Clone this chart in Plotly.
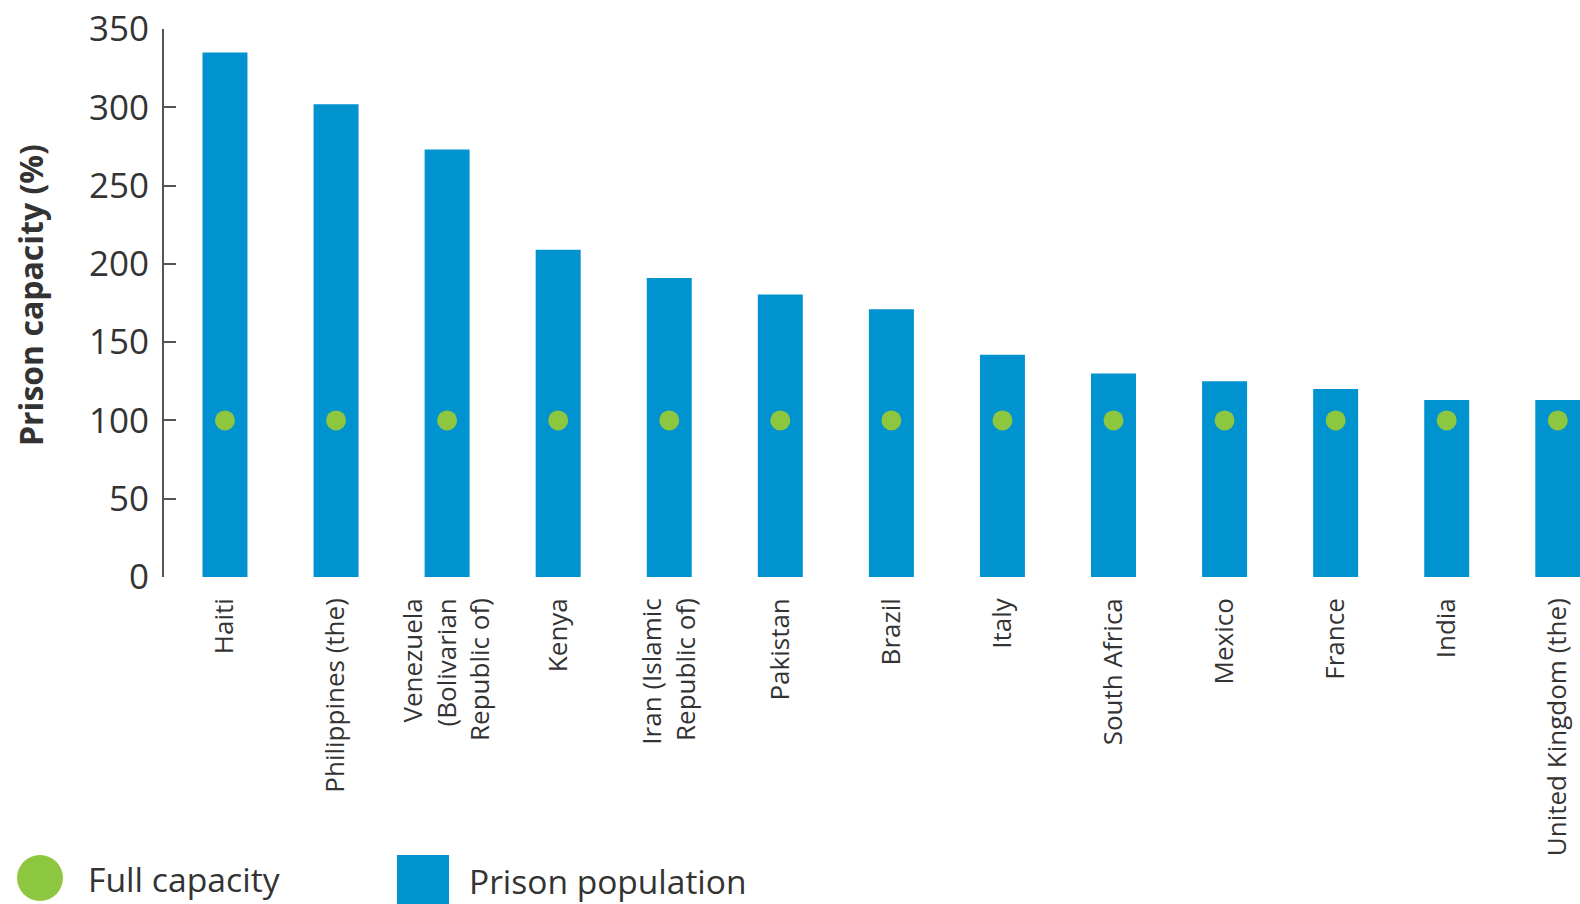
import plotly.graph_objects as go

countries = [
    "Haiti", "Philippines (the)", "Venezuela<br>(Bolivarian<br>Republic of)", "Kenya",
    "Iran (Islamic<br>Republic of)", "Pakistan", "Brazil", "Italy", "South Africa",
    "Mexico", "France", "India", "United Kingdom (the)",
]
prison_population = [335, 302, 273, 209, 191, 180.5, 171, 142, 130, 125, 120, 113, 113]
full_capacity = [100, 100, 100, 100, 100, 100, 100, 100, 100, 100, 100, 100, 100]
y_ticks = [0, 50, 100, 150, 200, 250, 300, 350]

BLUE = "#0093D0"
GREEN = "#8DC63F"
TEXT = "#333333"
FONT = "Open Sans"

W, H = 1580, 904
L, R, T, B = 164, 0, 29, 327
PW, PH = W - L - R, H - T - B


def px_x(x):
    return (x - L) / PW


def px_y(y):
    return (H - B - y) / PH


fig = go.Figure()
fig.add_trace(go.Bar(
    x=countries, y=prison_population, width=0.405,
    marker=dict(color=BLUE, line=dict(width=0)),
    name="Prison population", showlegend=False,
))
fig.add_trace(go.Scatter(
    x=countries, y=full_capacity, mode="markers",
    marker=dict(color=GREEN, size=20, line=dict(width=0)),
    name="Full capacity", showlegend=False,
))

shapes = [
    dict(type="circle", xref="paper", yref="paper",
         x0=px_x(17), x1=px_x(63), y0=px_y(901), y1=px_y(855),
         fillcolor=GREEN, line=dict(width=0)),
    dict(type="rect", xref="paper", yref="paper",
         x0=px_x(397), x1=px_x(449), y0=px_y(915), y1=px_y(855),
         fillcolor=BLUE, line=dict(width=0)),
]
annotations = [
    dict(text="Prison capacity (%)", xref="paper", yref="paper",
         x=px_x(30), y=px_y(295), xanchor="center", yanchor="middle",
         textangle=-90, showarrow=False,
         font=dict(family=FONT, size=32, color=TEXT, weight="bold")),
    dict(text="Full capacity", xref="paper", yref="paper",
         x=px_x(86), y=px_y(879), xanchor="left", yanchor="middle",
         showarrow=False, font=dict(family=FONT, size=33.7, color=TEXT)),
    dict(text="Prison population", xref="paper", yref="paper",
         x=px_x(467), y=px_y(881), xanchor="left", yanchor="middle",
         showarrow=False, font=dict(family=FONT, size=33.5, color=TEXT)),
]

fig.update_layout(
    width=W, height=H,
    margin=dict(l=L, r=R, t=T, b=B, pad=0),
    paper_bgcolor="white", plot_bgcolor="white",
    showlegend=False,
    shapes=shapes, annotations=annotations,
    font=dict(family=FONT, color=TEXT),
)
fig.update_xaxes(
    type="category", range=[-0.549, 12.2],
    showline=False, showgrid=False, zeroline=False, ticks="",
    tickangle=-90, tickfont=dict(family=FONT, size=26, color=TEXT),
    ticklabelstandoff=15,
)
fig.update_yaxes(
    range=[0, 350], tickvals=y_ticks,
    showline=True, linecolor="#555555", linewidth=2,
    ticks="inside", ticklen=12, tickwidth=2, tickcolor="#555555",
    showgrid=False, zeroline=False,
    tickfont=dict(family=FONT, size=35, color=TEXT),
    ticklabelstandoff=6,
)

fig.write_html("out.html")
